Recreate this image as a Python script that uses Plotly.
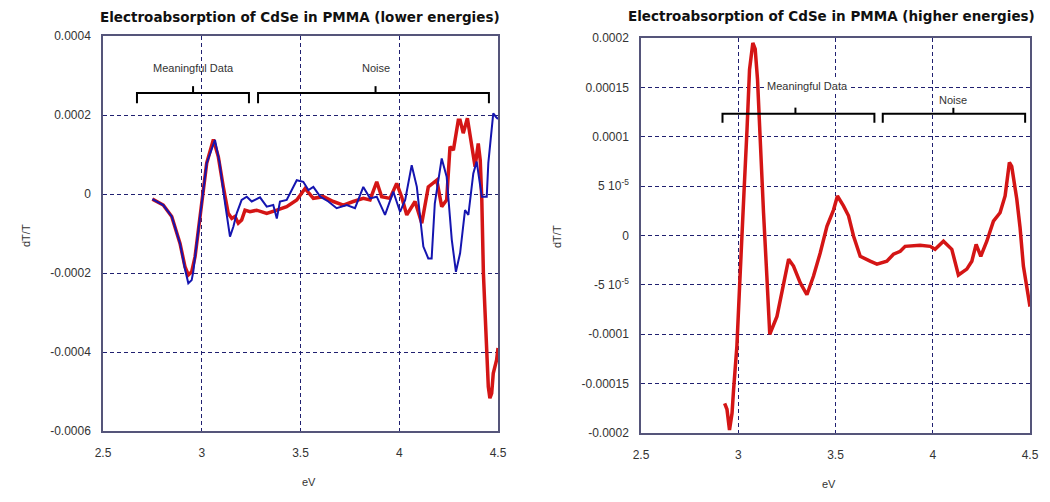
import plotly.graph_objects as go

# ---------------- data ----------------
# Left chart (lower energies) - red series
left_red_ev = [2.75, 2.805, 2.848, 2.89, 2.915, 2.932, 2.949, 2.966, 2.983, 3.0, 3.025, 3.059,
               3.084, 3.109, 3.134, 3.152, 3.168, 3.185, 3.202, 3.219, 3.244, 3.278, 3.329,
               3.38, 3.43, 3.481, 3.523, 3.565, 3.616, 3.666, 3.717, 3.767, 3.818, 3.852,
               3.886, 3.911, 3.953, 3.987, 4.012, 4.038, 4.08, 4.114, 4.147, 4.19, 4.215,
               4.24, 4.257, 4.274, 4.299, 4.308, 4.324, 4.345, 4.367, 4.384, 4.4, 4.41,
               4.418, 4.422, 4.426, 4.434, 4.443, 4.451, 4.459, 4.468, 4.476, 4.493, 4.5]
left_red_dt = [-1.3e-5, -2.8e-5, -5.7e-5, -1.25e-4, -1.84e-4, -2.05e-4, -1.97e-4, -1.59e-4,
               -9.1e-5, -1.5e-5, 7.8e-5, 1.38e-4, 9.4e-5, 1.8e-5, -4.9e-5, -6.2e-5, -5.7e-5,
               -7.4e-5, -6.6e-5, -4.1e-5, -4.5e-5, -4.1e-5, -4.9e-5, -4.1e-5, -3.2e-5,
               -1.5e-5, 1.4e-5, -1.1e-5, -6.8e-6, -1.9e-5, -2.8e-5, -1.9e-5, -1.1e-5,
               -1.5e-5, 3.1e-5, -6.8e-6, -1.1e-5, 2.7e-5, -6.8e-6, -5.3e-5, -1.9e-5,
               -7.4e-5, 1.8e-5, 3.5e-5, -3.2e-5, -1.5e-5, 1.2e-4, 1.11e-4, 1.87e-4,
               1.87e-4, 1.54e-4, 1.92e-4, 1.28e-4, 6.9e-5, 1.28e-4, 8.6e-5, -1.5e-5,
               -1.67e-4, -2.0e-4, -2.94e-4, -4.03e-4, -4.88e-4, -5.17e-4, -5.05e-4,
               -4.54e-4, -4.2e-4, -3.9e-4]

# Left chart - blue series
left_blue_ev = [2.75, 2.805, 2.848, 2.89, 2.915, 2.932, 2.949, 2.957, 2.966, 2.983, 3.0, 3.025,
                3.067, 3.09, 3.118, 3.143, 3.16, 3.177, 3.202, 3.228, 3.253, 3.295, 3.329,
                3.362, 3.38, 3.396, 3.43, 3.481, 3.514, 3.54, 3.565, 3.6, 3.641, 3.683,
                3.734, 3.776, 3.818, 3.852, 3.886, 3.928, 3.97, 4.004, 4.03, 4.063, 4.089,
                4.122, 4.147, 4.164, 4.18, 4.215, 4.24, 4.266, 4.287, 4.308, 4.333, 4.35,
                4.375, 4.392, 4.418, 4.443, 4.451, 4.468, 4.476, 4.49, 4.5]
left_blue_dt = [-1.3e-5, -2.8e-5, -5.7e-5, -1.25e-4, -1.9e-4, -2.26e-4, -2.18e-4, -1.97e-4,
                -1.59e-4, -9.1e-5, -1.5e-5, 7.8e-5, 1.37e-4, 8.0e-5, -2.4e-5, -1.08e-4,
                -8.3e-5, -4.9e-5, -1.5e-5, -6.8e-6, -1.9e-5, -8.5e-6, -3.2e-5, -2.8e-5,
                -6.2e-5, -1.9e-5, -1.5e-5, 3.5e-5, 3.1e-5, 1.0e-5, 1.8e-5, -6.8e-6,
                -1.9e-5, -3.6e-5, -2.8e-5, -3.6e-5, 1.8e-5, -1.1e-5, -6.8e-6, -5.3e-5,
                5.8e-6, -4.5e-5, -1.5e-5, 7.3e-5, 1.8e-5, -1.33e-4, -1.63e-4, -1.63e-4,
                -2.4e-5, 9.0e-5, 4.4e-5, -1.16e-4, -1.97e-4, -1.5e-4, -4.1e-5, -5.3e-5,
                5.2e-5, 8.2e-5, -6.8e-6, -6.8e-6, 7.8e-5, 1.62e-4, 2.04e-4, 1.95e-4, 1.9e-4]

# Right chart (higher energies) - red series
right_ev = [2.93, 2.942, 2.955, 2.968, 2.976, 2.993, 3.007, 3.019, 3.031, 3.045, 3.058, 3.075,
            3.087, 3.099, 3.113, 3.13, 3.147, 3.162, 3.199, 3.233, 3.259, 3.284, 3.319,
            3.353, 3.387, 3.421, 3.456, 3.49, 3.51, 3.541, 3.567, 3.593, 3.627, 3.678,
            3.713, 3.764, 3.798, 3.833, 3.858, 3.935, 3.987, 4.012, 4.055, 4.098, 4.132,
            4.175, 4.201, 4.223, 4.247, 4.278, 4.312, 4.346, 4.372, 4.394, 4.406, 4.432,
            4.449, 4.466, 4.484, 4.5]
right_dt = [-1.70e-4, -1.76e-4, -1.97e-4, -1.80e-4, -1.56e-4, -1.12e-4, -5.1e-5, 6e-6, 5.0e-5,
            1.07e-4, 1.68e-4, 1.95e-4, 1.89e-4, 1.58e-4, 9.1e-5, 2.3e-5, -4.1e-5, -1.0e-4,
            -8.2e-5, -4.8e-5, -2.4e-5, -3.1e-5, -4.8e-5, -6.0e-5, -4.1e-5, -1.8e-5, 9.4e-6,
            2.6e-5, 4.0e-5, 3.0e-5, 2.0e-5, -7e-7, -2.1e-5, -2.6e-5, -2.9e-5, -2.6e-5,
            -1.9e-5, -1.6e-5, -1.1e-5, -1.0e-5, -1.1e-5, -1.4e-5, -5.8e-6, -1.4e-5,
            -4.0e-5, -3.4e-5, -2.6e-5, -9e-6, -2.1e-5, -5.8e-6, 1.45e-5, 2.3e-5, 4.0e-5,
            7.4e-5, 7.0e-5, 3.7e-5, 7.8e-6, -3.1e-5, -5.1e-5, -7.2e-5]

x_ticks = [2.5, 3, 3.5, 4, 4.5]
x_tick_text = ["2.5", "3", "3.5", "4", "4.5"]
left_y_ticks = [0.0004, 0.0002, 0, -0.0002, -0.0004, -0.0006]
left_y_text = ["0.0004", "0.0002", "0", "-0.0002", "-0.0004", "-0.0006"]
right_y_ticks = [0.0002, 0.00015, 0.0001, 0.00005, 0, -0.00005, -0.0001, -0.00015, -0.0002]
right_y_text = ["0.0002", "0.00015", "0.0001", "5 10<sup>-5</sup>", "0",
                "-5 10<sup>-5</sup>", "-0.0001", "-0.00015", "-0.0002"]

titles = ["Electroabsorption of CdSe in PMMA (lower energies)",
          "Electroabsorption of CdSe in PMMA (higher energies)"]
labels = ["Meaningful Data", "Noise"]

# ---------------- figure ----------------
# The page body has an 8px margin, so the figure is 16px smaller than the window
# and pixel positions below are given in window coordinates minus 8.
W, H = 1034, 486
OFF = 8

def px(x):
    return (x - OFF) / W

def py(y):
    return 1 - (y - OFF) / H

RED = "#d41515"
BLUE = "#1515b0"
GRID = "#202070"
FRAME = "#55557a"
TICKFONT = dict(family="Liberation Sans, Arial, sans-serif", size=12, color="#333333")

fig = go.Figure()
fig.add_trace(go.Scatter(x=left_red_ev, y=left_red_dt, mode="lines",
                         line=dict(color=RED, width=3.5), xaxis="x", yaxis="y",
                         showlegend=False, hoverinfo="skip"))
fig.add_trace(go.Scatter(x=left_blue_ev, y=left_blue_dt, mode="lines",
                         line=dict(color=BLUE, width=2), xaxis="x", yaxis="y",
                         showlegend=False, hoverinfo="skip"))
fig.add_trace(go.Scatter(x=right_ev, y=right_dt, mode="lines",
                         line=dict(color=RED, width=3.5), xaxis="x2", yaxis="y2",
                         showlegend=False, hoverinfo="skip"))

axis_common = dict(showline=True, linecolor=FRAME, linewidth=1.5, mirror=True,
                   showgrid=True, gridcolor=GRID, griddash="4px,3px", gridwidth=1,
                   zeroline=False, ticks="", tickfont=TICKFONT, automargin=False)

fig.update_layout(
    width=W, height=H,
    margin=dict(l=0, r=0, t=0, b=0),
    paper_bgcolor="white", plot_bgcolor="white",
    xaxis=dict(domain=[px(103), px(498)], range=[2.5, 4.5], tickvals=x_ticks,
               ticktext=x_tick_text, anchor="y", ticklabelstandoff=10, **axis_common),
    yaxis=dict(domain=[py(431), py(36)], range=[-0.0006, 0.0004],
               tickvals=left_y_ticks, ticktext=left_y_text, anchor="x",
               ticklabelstandoff=8, **axis_common),
    xaxis2=dict(domain=[px(641), px(1030)], range=[2.5, 4.5], tickvals=x_ticks,
                ticktext=x_tick_text, anchor="y2", ticklabelstandoff=10, **axis_common),
    yaxis2=dict(domain=[py(433), py(38)], range=[-0.0002, 0.0002],
                tickvals=right_y_ticks, ticktext=right_y_text, anchor="x2",
                ticklabelstandoff=8, **axis_common),
)

TITLEFONT = dict(family="DejaVu Sans, Verdana, sans-serif", size=13.5, color="#111111")
LABELFONT = dict(family="Liberation Sans, Arial, sans-serif", size=11, color="#333333")
ann = [
    dict(text="<b>" + titles[0] + "</b>", x=px(300), y=1, xref="paper", yref="paper",
         showarrow=False, font=TITLEFONT, xanchor="center", yanchor="top", borderpad=0),
    dict(text="<b>" + titles[1] + "</b>", x=px(831), y=py(16), xref="paper", yref="paper",
         showarrow=False, font=TITLEFONT, xanchor="center", yanchor="middle", borderpad=0),
    dict(text="eV", x=px(300), y=py(490), xref="paper", yref="paper", showarrow=False,
         font=LABELFONT),
    dict(text="eV", x=px(838), y=py(492), xref="paper", yref="paper", showarrow=False,
         font=LABELFONT),
    dict(text="dT/T", x=px(18), y=py(236), xref="paper", yref="paper", showarrow=False,
         font=LABELFONT, textangle=-90),
    dict(text="dT/T", x=px(557), y=py(237), xref="paper", yref="paper", showarrow=False,
         font=LABELFONT, textangle=-90),
    # bracket labels
    dict(text=labels[0], x=2.96, y=3.19e-4, xref="x", yref="y", showarrow=False,
         font=LABELFONT),
    dict(text=labels[1], x=3.88, y=3.19e-4, xref="x", yref="y", showarrow=False,
         font=LABELFONT),
    dict(text=labels[0], x=3.356, y=1.51e-4, xref="x2", yref="y2", showarrow=False,
         font=LABELFONT, bgcolor="white"),
    dict(text=labels[1], x=4.106, y=1.37e-4, xref="x2", yref="y2", showarrow=False,
         font=LABELFONT, bgcolor="white"),
]
fig.update_layout(annotations=ann)

def bracket(xr, yr, x0, x1, xm, ytop, ylow, yhi):
    return [
        dict(type="path", xref=xr, yref=yr,
             path=f"M {x0},{ylow} L {x0},{ytop} L {x1},{ytop} L {x1},{ylow}",
             line=dict(color="black", width=2)),
        dict(type="line", xref=xr, yref=yr, x0=xm, x1=xm, y0=ytop, y1=yhi,
             line=dict(color="black", width=2)),
    ]

shapes = []
shapes += bracket("x", "y", 2.672, 3.239, 2.956, 2.56e-4, 2.30e-4, 2.73e-4)
shapes += bracket("x", "y", 3.285, 4.454, 3.88, 2.56e-4, 2.30e-4, 2.73e-4)
shapes += bracket("x2", "y2", 2.919, 3.70, 3.294, 1.234e-4, 1.143e-4, 1.295e-4)
shapes += bracket("x2", "y2", 3.743, 4.475, 4.106, 1.234e-4, 1.143e-4, 1.295e-4)
fig.update_layout(shapes=shapes)

fig.write_html("out.html")
